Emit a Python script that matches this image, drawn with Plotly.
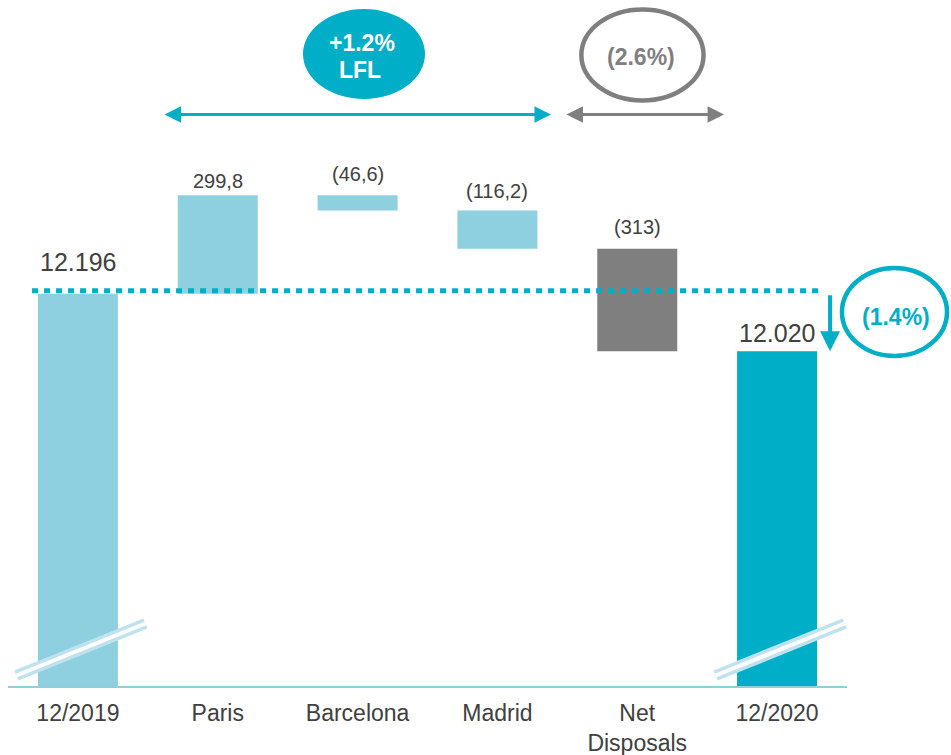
import plotly.graph_objects as go

# ---------------- data ----------------
categories = ["12/2019", "Paris", "Barcelona", "Madrid", "Net<br>Disposals", "12/2020"]
start_value = 12196
changes = [299.8, -46.6, -116.2, -313.0]   # Paris, Barcelona, Madrid, Net Disposals
end_value = 12020
value_labels = ["12.196", "299,8", "(46,6)", "(116,2)", "(313)", "12.020"]
lfl_label = ["+1.2%", "LFL"]
disposals_label = "(2.6%)"
total_change_label = "(1.4%)"

# broken value axis (does not start at zero)
AXIS_MIN = 11000
AXIS_MAX = 13091

# ---------------- styles ----------------
LIGHT = "#8ECFE0"
TEAL = "#00AEC7"
GREY = "#7F7F7F"
TEXT = "#404040"
BREAK = "#BEE3EE"
FONT = "Liberation Sans, Arial, sans-serif"
bar_colors = [LIGHT, LIGHT, LIGHT, LIGHT, GREY, TEAL]

# ---------------- waterfall geometry from data ----------------
bases, heights, tops = [AXIS_MIN], [start_value - AXIS_MIN], [start_value]
level = start_value
for c in changes:
    new = level + c
    bases.append(min(level, new))
    heights.append(abs(c))
    tops.append(max(level, new))
    level = new
bases.append(AXIS_MIN)
heights.append(end_value - AXIS_MIN)
tops.append(end_value)

fig = go.Figure()
fig.add_trace(go.Bar(
    x=categories, y=heights, base=bases, width=0.572,
    marker=dict(color=bar_colors, line=dict(width=0)),
    hoverinfo="skip",
))

# value labels above bars (pixel offsets are layout only)
label_offsets = [32, 14, 21, 20, 22, 18]
label_sizes = [25, 20, 20, 20, 20, 25]
for i, (t, lab) in enumerate(zip(tops, value_labels)):
    fig.add_annotation(x=i, y=t, xref="x", yref="y", text=lab, showarrow=False,
                       yanchor="middle", xanchor="center", yshift=label_offsets[i],
                       font=dict(family=FONT, size=label_sizes[i], color=TEXT))

shapes = []
# dotted reference line at starting level
shapes.append(dict(type="line", xref="x", yref="y", x0=-0.328, x1=5.32,
                   ysizemode="pixel", yanchor=start_value, y0=3, y1=3,
                   line=dict(color=TEAL, width=5, dash="6px,6px"), layer="above"))
# axis-break marks on the two total bars
for i in (0, 5):
    shapes.append(dict(type="line", xref="x", yref="paper", x0=i - 0.44, x1=i + 0.483,
                       y0=0.0153, y1=0.0911, line=dict(color=BREAK, width=11), layer="above"))
    shapes.append(dict(type="line", xref="x", yref="paper", x0=i - 0.44, x1=i + 0.483,
                       y0=0.0153, y1=0.0911, line=dict(color="white", width=4), layer="above"))
# bubbles
shapes.append(dict(type="circle", xref="paper", yref="paper", x0=0.3516, x1=0.497,
                   y0=0.8557, y1=0.9869, fillcolor=TEAL, line=dict(width=0), layer="above"))
shapes.append(dict(type="circle", xref="paper", yref="paper", x0=0.6834, x1=0.829,
                   y0=0.8535, y1=0.9862, fillcolor="rgba(0,0,0,0)",
                   line=dict(color=GREY, width=4.5), layer="above"))
shapes.append(dict(type="circle", xref="paper", yref="paper", x0=0.994, x1=1.1192,
                   y0=0.481, y1=0.6093, fillcolor="rgba(0,0,0,0)",
                   line=dict(color=TEAL, width=4.5), layer="above"))

# bubble texts
def bubble_text(x, y, txt, col):
    fig.add_annotation(x=x, y=y, xref="paper", yref="paper", text="<b>%s</b>" % txt,
                       showarrow=False, xanchor="center", yanchor="middle",
                       font=dict(family=FONT, size=23, color=col))

bubble_text(0.4219, 0.9373, lfl_label[0], "white")
bubble_text(0.4195, 0.898, lfl_label[1], "white")
bubble_text(0.7545, 0.9169, disposals_label, GREY)
bubble_text(1.0584, 0.5379, total_change_label, TEAL)

# double arrows (LFL span and disposals span)
ARROW_Y = 12742
for (xa, xb, col) in [(0.6085, 3.383, TEAL), (3.483, 4.621, GREY)]:
    fig.add_annotation(x=xb, y=ARROW_Y, ax=xa, ay=ARROW_Y, xref="x", yref="y",
                       axref="x", ayref="y", text="", showarrow=True,
                       arrowhead=2, startarrowhead=2, arrowside="end+start",
                       arrowsize=1.1, startarrowsize=1.1, arrowwidth=3, arrowcolor=col)
# vertical arrow from starting level down to ending level
fig.add_annotation(x=5.379, y=end_value, ax=5.379, ay=start_value, xref="x", yref="y",
                   axref="x", ayref="y", text="", showarrow=True,
                   arrowhead=2, arrowsize=1.0, arrowwidth=4, arrowcolor=TEAL)

fig.update_layout(
    width=951, height=755,
    margin=dict(l=8, r=104, t=0, b=69),
    plot_bgcolor="white", paper_bgcolor="white",
    showlegend=False, shapes=shapes,
    font=dict(family=FONT, color=TEXT),
    xaxis=dict(type="category", range=[-0.5, 5.5], showgrid=False, zeroline=False,
               showline=True, linecolor="#93CCDB", linewidth=2, ticks="",
               ticklabelstandoff=5,
               tickfont=dict(family=FONT, size=23, color=TEXT)),
    yaxis=dict(range=[AXIS_MIN, AXIS_MAX], visible=False, showgrid=False, zeroline=False),
)

fig.write_html("out.html", config={"displayModeBar": False},
               post_script="document.body.style.margin='0';document.body.style.overflow='hidden';")
